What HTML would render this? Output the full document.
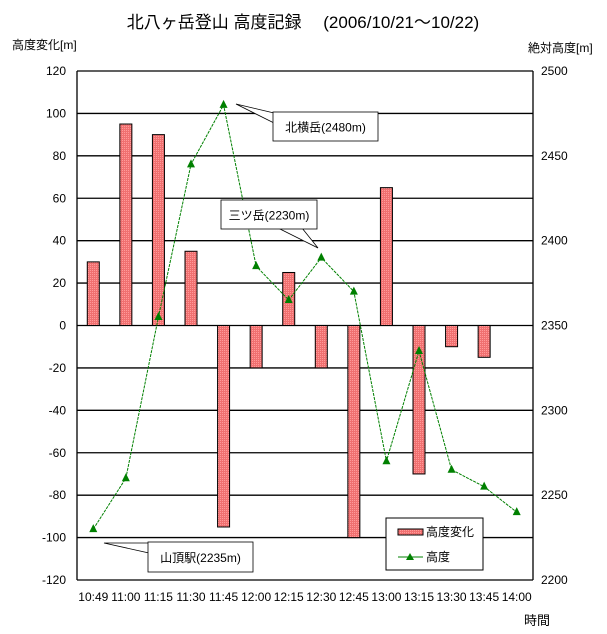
<!DOCTYPE html>
<html><head><meta charset="utf-8"><style>
html,body{margin:0;padding:0;background:#fff;}
svg{display:block;font-family:"Liberation Sans","Noto Sans CJK JP",sans-serif;}
</style></head><body>
<svg id="c" width="607" height="634" xmlns="http://www.w3.org/2000/svg">
<defs>
<pattern id="p" width="2" height="2" patternUnits="userSpaceOnUse"><rect width="2" height="2" fill="#f07070"/><rect width="1" height="1" fill="#ff9a9a"/></pattern>
</defs>
<text x="303" y="28" font-size="17" text-anchor="middle">北八ヶ岳登山 高度記録　 (2006/10/21～10/22)</text>
<text x="12" y="49" font-size="12">高度変化[m]</text>
<text x="528" y="52" font-size="12">絶対高度[m]</text>
<text x="524" y="625" font-size="13">時間</text>
<g id="g"></g>
</svg>
<script>
var g=document.getElementById('g'),h='';
var L=77,R=533,T=71,B=580,W=(R-L)/14;
function yl(v){return T+(120-v)*(B-T)/240;}
function yr(a){return T+(2500-a)*(B-T)/300;}
for(var v=120;v>=-120;v-=20){var y=yl(v);
 h+='<line x1="'+L+'" x2="'+R+'" y1="'+y+'" y2="'+y+'" stroke="#000" stroke-width="1.3"/>';
 h+='<text x="66" y="'+(y+4)+'" font-size="12" text-anchor="end">'+v+'</text>';}
for(var a=2200;a<=2500;a+=50){h+='<text x="541" y="'+(yr(a)+4)+'" font-size="12">'+a+'</text>';}
h+='<line x1="'+L+'" x2="'+L+'" y1="'+T+'" y2="'+B+'" stroke="#000" stroke-width="1.3"/>';
h+='<line x1="'+R+'" x2="'+R+'" y1="'+T+'" y2="'+B+'" stroke="#000" stroke-width="1.3"/>';
var bars=[30,95,90,35,-95,-20,25,-20,-100,65,-70,-10,-15,0];
var alt=[2230,2260,2355,2445,2480,2385,2365,2390,2370,2270,2335,2265,2255,2240];
var lab=["10:49","11:00","11:15","11:30","11:45","12:00","12:15","12:30","12:45","13:00","13:15","13:30","13:45","14:00"];
var z=yl(0);
for(var i=0;i<14;i++){var cx=L+W*(i+0.5);
 if(bars[i]!=0){var y=yl(bars[i]);h+='<rect x="'+(cx-6)+'" y="'+Math.min(y,z)+'" width="12" height="'+Math.abs(y-z)+'" fill="url(#p)" stroke="#000" stroke-width="1"/>';}
 h+='<text x="'+cx+'" y="601" font-size="12" text-anchor="middle">'+lab[i]+'</text>';}
var pts=alt.map(function(a,i){return (L+W*(i+0.5))+','+yr(a);}).join(' ');
h+='<polyline points="'+pts+'" fill="none" stroke="#008000" stroke-width="1" stroke-dasharray="3,1"/>';
alt.forEach(function(a,i){var x=L+W*(i+0.5),y=yr(a);h+='<polygon points="'+(x-4)+','+(y+3)+' '+(x+4)+','+(y+3)+' '+x+','+(y-5)+'" fill="#008000"/>';});
function co(x,y,w,hh,pp,t){h+='<polygon points="'+pp+'" fill="#fff" stroke="#000" stroke-width="0.8"/>';
 h+='<rect x="'+x+'" y="'+y+'" width="'+w+'" height="'+hh+'" fill="#fff" stroke="#000" stroke-width="0.8"/>';
 h+='<text x="'+(x+w/2)+'" y="'+(y+hh/2+5)+'" font-size="12" text-anchor="middle">'+t+'</text>';}
co(273,112,105,29,'274,113 236,104 274,123','北横岳(2480m)');
co(221,200,96,29,'278,228 318,248 302,228','三ツ岳(2230m)');
co(148,542,105,30,'149,543 104,543 149,553','山頂駅(2235m)');
h+='<rect x="386" y="518" width="97" height="52" fill="#fff" stroke="#000" stroke-width="1"/>';
h+='<rect x="398" y="529" width="25" height="6" fill="url(#p)" stroke="#000"/>';
h+='<text x="426" y="536" font-size="12">高度変化</text>';
h+='<line x1="398" x2="423" y1="557" y2="557" stroke="#008000"/><polygon points="406,560 414,560 410,553" fill="#008000"/>';
h+='<text x="426" y="561" font-size="12">高度</text>';
g.innerHTML=h;
</script>
</body></html>
